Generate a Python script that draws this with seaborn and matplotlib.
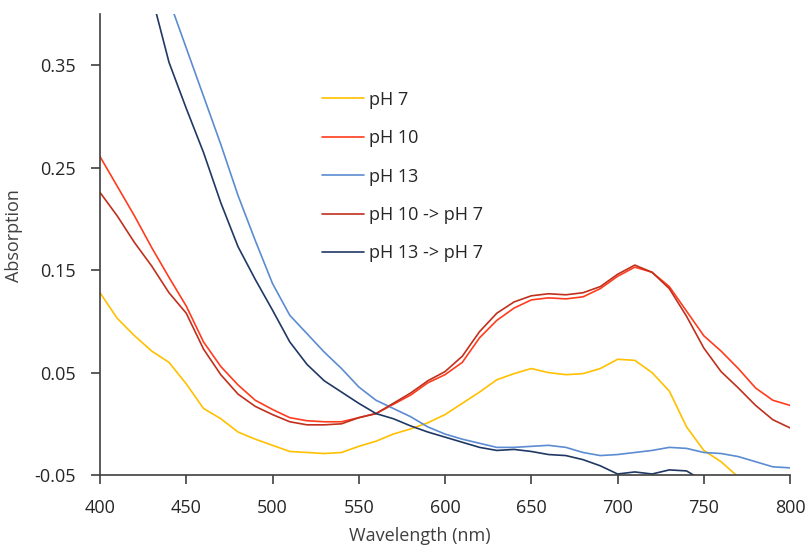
import numpy as np
import pandas as pd
import matplotlib
matplotlib.use("Agg")
import matplotlib.pyplot as plt
import seaborn as sns

# ─── DATA (every 10 nm) ───────────────────────────────────────────────────────
wavelength = list(range(400, 810, 10))
nan = np.nan

ph7 = [0.128, 0.103, 0.086, 0.071, 0.060, 0.039, 0.015, 0.005, -0.008, -0.015,
       -0.021, -0.027, -0.028, -0.029, -0.028, -0.022, -0.017, -0.010, -0.005, 0.001,
       0.009, 0.020, 0.031, 0.043, 0.049, 0.054, 0.050, 0.048, 0.049, 0.054,
       0.063, 0.062, 0.050, 0.032, -0.003, -0.026, -0.037, -0.052, nan, nan, nan]

ph10 = [0.261, 0.232, 0.203, 0.172, 0.143, 0.115, 0.080, 0.056, 0.038, 0.023,
        0.014, 0.006, 0.003, 0.002, 0.002, 0.006, 0.010, 0.019, 0.028, 0.040,
        0.048, 0.060, 0.084, 0.101, 0.113, 0.121, 0.123, 0.122, 0.124, 0.132,
        0.144, 0.153, 0.148, 0.134, 0.110, 0.086, 0.071, 0.054, 0.035, 0.023, 0.018]

ph13 = [nan, nan, nan, nan, 0.414, 0.367, 0.320, 0.273, 0.223, 0.179,
        0.137, 0.106, 0.088, 0.070, 0.054, 0.036, 0.023, 0.015, 0.007, -0.003,
        -0.010, -0.015, -0.019, -0.023, -0.023, -0.022, -0.021, -0.023, -0.028, -0.031,
        -0.030, -0.028, -0.026, -0.023, -0.024, -0.028, -0.029, -0.032, -0.037, -0.042, -0.043]

ph10_to_7 = [0.226, 0.203, 0.177, 0.154, 0.128, 0.108, 0.073, 0.048, 0.029, 0.017,
             0.009, 0.002, -0.001, -0.001, 0.000, 0.006, 0.010, 0.020, 0.030, 0.042,
             0.051, 0.066, 0.090, 0.108, 0.119, 0.125, 0.127, 0.126, 0.128, 0.134,
             0.146, 0.155, 0.148, 0.132, 0.105, 0.074, 0.051, 0.035, 0.018, 0.004, -0.004]

ph13_to_7 = [nan, nan, nan, 0.418, 0.353, 0.308, 0.265, 0.216, 0.173, 0.141,
             0.111, 0.080, 0.058, 0.042, 0.031, 0.020, 0.010, 0.005, -0.002, -0.008,
             -0.013, -0.018, -0.023, -0.026, -0.025, -0.027, -0.030, -0.031, -0.035, -0.041,
             -0.049, -0.047, -0.049, -0.045, -0.046, -0.056, nan, nan, nan, nan, nan]

labels = ["pH 7", "pH 10", "pH 13", "pH 10 -> pH 7", "pH 13 -> pH 7"]
colors = ["#FFC000", "#FF3C1E", "#5B8CD2", "#C0301C", "#1F3864"]

x_ticks = [400, 450, 500, 550, 600, 650, 700, 750, 800]
y_ticks = [-0.05, 0.05, 0.15, 0.25, 0.35]

# ─── LONG FORMAT ──────────────────────────────────────────────────────────────
df = pd.DataFrame({"Wavelength": wavelength, labels[0]: ph7, labels[1]: ph10,
                   labels[2]: ph13, labels[3]: ph10_to_7, labels[4]: ph13_to_7})
long = df.melt(id_vars="Wavelength", var_name="Sample", value_name="Absorption")

# ─── PLOT ─────────────────────────────────────────────────────────────────────
sns.set_style("ticks")
plt.rcParams["font.family"] = ["Open Sans", "DejaVu Sans"]

fig = plt.figure(figsize=(8.09, 5.46), dpi=100)
ax = fig.add_axes([0.1236, 0.130, 0.853, 0.844])

sns.lineplot(data=long, x="Wavelength", y="Absorption", hue="Sample",
             hue_order=labels, palette=colors, linewidth=1.2, ax=ax)

ax.set_xlim(400, 800)
ax.set_ylim(-0.05, 0.40)
ax.set_xticks(x_ticks)
ax.set_yticks(y_ticks)
ax.set_yticklabels([f"{v:.2f}" for v in y_ticks])
ax.set_xlabel("Wavelength (nm)", fontsize=13, color="#404040")
ax.set_ylabel("Absorption", fontsize=13, color="#404040")
ax.xaxis.set_label_coords(0.464, -0.113)
ax.yaxis.set_label_coords(-0.112, 0.52)
ax.tick_params(labelsize=13, labelcolor="#262626", length=6.5, width=1.2,
               color="#404040", pad=11)
for side in ["left", "bottom"]:
    ax.spines[side].set_color("#404040")
    ax.spines[side].set_linewidth(1.2)
sns.despine(ax=ax)

ax.legend(frameon=False, loc="upper left", bbox_to_anchor=(0.3776, 0.8635),
          bbox_transform=fig.transFigure, fontsize=13, handlelength=2.33,
          handletextpad=0.3, labelspacing=1.13, labelcolor="#262626")

fig.savefig("out.png", dpi=100)
